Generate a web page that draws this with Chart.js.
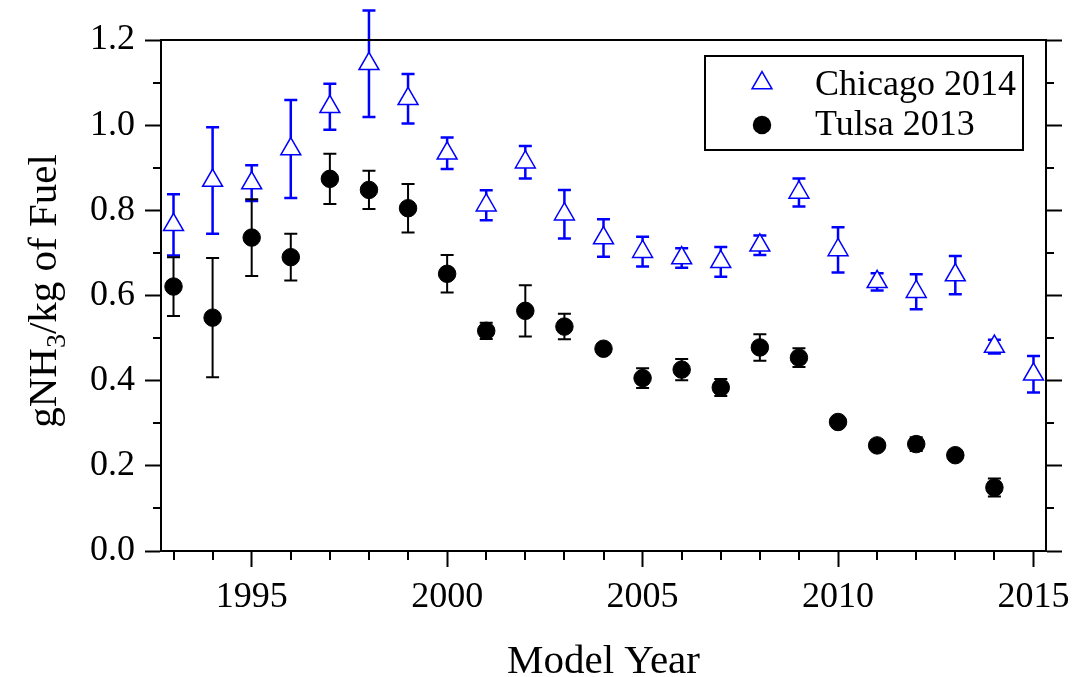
<!DOCTYPE html>
<html>
<head>
<meta charset="utf-8">
<title>NH3 emission factor by model year</title>
<script src="https://cdn.jsdelivr.net/npm/chart.js@4.4.1/dist/chart.umd.min.js"></script>
<style>
    html, body { margin: 0; padding: 0; background: #fff; }
    #wrap { width: 1072px; height: 677px; }
</style>
</head>
<body>
<div id="wrap"><canvas id="nh3Chart" width="1072" height="677"></canvas></div>
<script>
// Fuel-based NH3 emission factors (g/kg) by vehicle model year
var chicagoYears = [1993, 1994, 1995, 1996, 1997, 1998, 1999, 2000, 2001, 2002, 2003, 2004,
    2005, 2006, 2007, 2008, 2009, 2010, 2011, 2012, 2013, 2014, 2015];
var chicagoMean = [0.766, 0.870, 0.864, 0.944, 1.043, 1.144, 1.062, 0.934, 0.812, 0.913, 0.791, 0.735,
    0.703, 0.688, 0.679, 0.718, 0.842, 0.707, 0.632, 0.609, 0.648, 0.480, 0.415];
var chicagoErr = [0.072, 0.125, 0.042, 0.115, 0.054, 0.125, 0.058, 0.037, 0.035, 0.038, 0.057, 0.044,
    0.035, 0.023, 0.035, 0.023, 0.033, 0.053, 0.020, 0.041, 0.045, 0.016, 0.043];

var tulsaYears = [1993, 1994, 1995, 1996, 1997, 1998, 1999, 2000, 2001, 2002, 2003, 2004,
    2005, 2006, 2007, 2008, 2009, 2010, 2011, 2012, 2013, 2014];
var tulsaMean = [0.621, 0.548, 0.736, 0.690, 0.874, 0.848, 0.805, 0.651, 0.517, 0.564, 0.527, 0.475,
    0.406, 0.426, 0.384, 0.478, 0.454, 0.303, 0.248, 0.251, 0.225, 0.149];
var tulsaErr = [0.069, 0.140, 0.090, 0.055, 0.059, 0.045, 0.057, 0.044, 0.019, 0.060, 0.030, 0.010,
    0.023, 0.025, 0.020, 0.031, 0.022, 0.008, 0.008, 0.016, 0.012, 0.021];

var xTickLabels = [1995, 2000, 2005, 2010, 2015];
var xMinorTicks = [1993, 1994, 1996, 1997, 1998, 1999, 2001, 2002, 2003, 2004, 2006, 2007,
    2008, 2009, 2011, 2012, 2013, 2014];
var yTickLabels = [0.0, 0.2, 0.4, 0.6, 0.8, 1.0, 1.2];
var yMinorTicks = [0.1, 0.3, 0.5, 0.7, 0.9, 1.1];

(function () {
    'use strict';

    var FONT = '"Liberation Serif", "Times New Roman", serif';
    var BLUE = '#0000ff';

    function toPoints(xs, ys) {
        return xs.map(function (x, i) { return { x: x, y: ys[i] }; });
    }

    function majorTicks(list) {
        return function (scale) {
            scale.ticks = list.map(function (v) { return { value: v }; });
        };
    }

    // vertical error bars with caps, under the markers
    var errorBars = {
        id: 'errorBars',
        beforeDatasetsDraw: function (chart) {
            var ctx = chart.ctx;
            var xs = chart.scales.x, ys = chart.scales.y;
            chart.data.datasets.forEach(function (ds) {
                ctx.save();
                ctx.strokeStyle = ds.errColor;
                ctx.lineWidth = ds.errWidth;
                ds.data.forEach(function (p, i) {
                    var e = ds.errors[i];
                    var px = xs.getPixelForValue(p.x);
                    var top = ys.getPixelForValue(p.y + e);
                    var bot = ys.getPixelForValue(p.y - e);
                    ctx.beginPath();
                    ctx.moveTo(px, top); ctx.lineTo(px, bot);
                    ctx.moveTo(px - 6.5, top); ctx.lineTo(px + 6.5, top);
                    ctx.moveTo(px - 6.5, bot); ctx.lineTo(px + 6.5, bot);
                    ctx.stroke();
                });
                ctx.restore();
            });
        }
    };

    // top border, minor ticks, axis titles and the boxed legend
    var decorations = {
        id: 'decorations',
        afterDraw: function (chart) {
            var ctx = chart.ctx;
            var a = chart.chartArea;
            var xs = chart.scales.x, ys = chart.scales.y;
            ctx.save();
            ctx.strokeStyle = '#000';
            ctx.lineWidth = 2;
            ctx.beginPath();
            ctx.moveTo(a.left - 1, a.top);
            ctx.lineTo(a.right + 1, a.top);
            xMinorTicks.forEach(function (v) {
                var px = Math.round(xs.getPixelForValue(v));
                ctx.moveTo(px, a.bottom);
                ctx.lineTo(px, a.bottom + 9);
            });
            yMinorTicks.forEach(function (v) {
                var py = Math.round(ys.getPixelForValue(v));
                ctx.moveTo(a.left, py); ctx.lineTo(a.left - 8, py);
                ctx.moveTo(a.right, py); ctx.lineTo(a.right + 8, py);
            });
            ctx.stroke();

            // axis titles
            ctx.fillStyle = '#000';
            ctx.font = '41px ' + FONT;
            ctx.textAlign = 'center';
            ctx.textBaseline = 'alphabetic';
            ctx.fillText('Model Year', (a.left + a.right) / 2, 673);

            ctx.save();
            ctx.translate(56, 291);
            ctx.rotate(-Math.PI / 2);
            var parts = [['gNH', 41, 0], ['3', 28, 9], ['/kg of Fuel', 41, 0]];
            var total = 0;
            parts.forEach(function (p) {
                ctx.font = p[1] + 'px ' + FONT;
                total += ctx.measureText(p[0]).width;
            });
            var cx = -total / 2;
            ctx.textAlign = 'left';
            parts.forEach(function (p) {
                ctx.font = p[1] + 'px ' + FONT;
                ctx.fillText(p[0], cx, p[2]);
                cx += ctx.measureText(p[0]).width;
            });
            ctx.restore();

            // legend
            var bx = a.right - 341, by = a.top + 16;
            ctx.lineWidth = 2;
            ctx.strokeRect(bx, by, 318, 94);
            ctx.font = '36px ' + FONT;
            ctx.textAlign = 'left';
            chart.data.datasets.forEach(function (ds, i) {
                var mx = bx + 57;
                var my = i === 0 ? by + 27 : by + 69;
                ctx.beginPath();
                if (ds.pointStyle === 'triangle') {
                    var r = ds.pointRadius;
                    ctx.moveTo(mx, my - r);
                    ctx.lineTo(mx + r * Math.sin(2 * Math.PI / 3), my + r / 2);
                    ctx.lineTo(mx - r * Math.sin(2 * Math.PI / 3), my + r / 2);
                    ctx.closePath();
                    ctx.fillStyle = ds.backgroundColor;
                    ctx.fill();
                    ctx.lineWidth = ds.borderWidth;
                    ctx.strokeStyle = ds.borderColor;
                    ctx.stroke();
                } else {
                    ctx.arc(mx, my, ds.pointRadius + 0.5, 0, Math.PI * 2);
                    ctx.fillStyle = ds.backgroundColor;
                    ctx.fill();
                }
                ctx.fillStyle = '#000';
                ctx.fillText(ds.label, bx + 110, i === 0 ? by + 39 : by + 79);
            });
            ctx.restore();
        }
    };

    var tickFont = { family: FONT, size: 36 };

    new Chart(document.getElementById('nh3Chart'), {
        type: 'scatter',
        data: {
            datasets: [{
                label: 'Chicago 2014',
                data: toPoints(chicagoYears, chicagoMean),
                errors: chicagoErr,
                errColor: BLUE,
                errWidth: 2.5,
                pointStyle: 'triangle',
                pointRadius: 11.5,
                borderColor: BLUE,
                backgroundColor: '#ffffff',
                borderWidth: 1.5,
                clip: false
            }, {
                label: 'Tulsa 2013',
                data: toPoints(tulsaYears, tulsaMean),
                errors: tulsaErr,
                errColor: '#000000',
                errWidth: 2,
                pointStyle: 'circle',
                pointRadius: 8.75,
                borderColor: '#000000',
                backgroundColor: '#000000',
                borderWidth: 1,
                clip: false
            }]
        },
        options: {
            responsive: false,
            animation: false,
            devicePixelRatio: 1,
            layout: { padding: { top: 40, left: 0, right: 0, bottom: 0 } },
            plugins: {
                legend: { display: false },
                tooltip: { enabled: false }
            },
            scales: {
                x: {
                    type: 'linear',
                    position: 'bottom',
                    min: 1992.68,
                    max: 2015.32,
                    afterBuildTicks: majorTicks(xTickLabels),
                    afterFit: function (s) {
                        s.height = 126;
                        s.paddingLeft = 0;
                        s.paddingRight = 0;
                    },
                    border: { display: true, color: '#000', width: 2 },
                    grid: { drawOnChartArea: false, tickLength: 16, tickWidth: 2, tickColor: '#000' },
                    ticks: {
                        color: '#000',
                        font: tickFont,
                        padding: 9,
                        maxRotation: 0,
                        callback: function (v) { return String(v); }
                    }
                },
                y: {
                    type: 'linear',
                    position: 'left',
                    min: 0,
                    max: 1.2,
                    afterBuildTicks: majorTicks(yTickLabels),
                    afterFit: function (s) {
                        s.width = 161;
                        s.paddingTop = 0;
                        s.paddingBottom = 0;
                    },
                    border: { display: true, color: '#000', width: 2 },
                    grid: { drawOnChartArea: false, tickLength: 16, tickWidth: 2, tickColor: '#000' },
                    ticks: {
                        color: '#000',
                        font: tickFont,
                        padding: 10,
                        callback: function (v) { return v.toFixed(1); }
                    }
                },
                y2: {
                    type: 'linear',
                    position: 'right',
                    min: 0,
                    max: 1.2,
                    afterBuildTicks: majorTicks(yTickLabels),
                    afterFit: function (s) { s.width = 26; },
                    border: { display: true, color: '#000', width: 2 },
                    grid: { drawOnChartArea: false, tickLength: 16, tickWidth: 2, tickColor: '#000' },
                    ticks: { display: false }
                }
            }
        },
        plugins: [errorBars, decorations]
    });
})();
</script>
</body>
</html>
